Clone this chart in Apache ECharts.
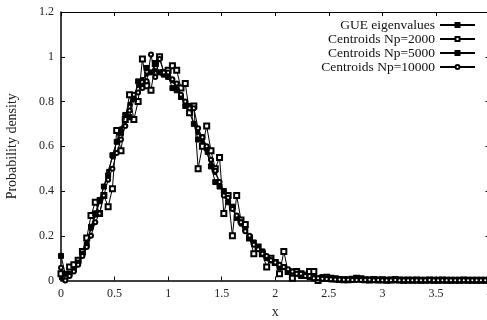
<!DOCTYPE html>
<html><head><meta charset="utf-8">
<script src="https://cdn.jsdelivr.net/npm/echarts@6/dist/echarts.min.js"></script>
<style>html,body{margin:0;padding:0;background:#fff}#c{width:487px;height:320px}</style>
</head><body><div id="c"></div>
<script>
const xValues = [0,0.04,0.08,0.12,0.16,0.2,0.24,0.28,0.32,0.36,0.4,0.44,0.48,0.52,0.56,0.6,0.64,0.68,0.72,0.76,0.8,0.84,0.88,0.92,0.96,1,
1.04,1.08,1.12,1.16,1.2,1.24,1.28,1.32,1.36,1.4,1.44,1.48,1.52,1.56,1.6,1.64,1.68,1.72,1.76,1.8,1.84,1.88,1.92,1.96,2,
2.04,2.08,2.12,2.16,2.2,2.24,2.28,2.32,2.36,2.4,2.44,2.48,2.52,2.56,2.6,2.64,2.68,2.72,2.76,2.8,
2.84,2.88,2.92,2.96,3,3.04,3.08,3.12,3.16,3.2,3.24,3.28,3.32,3.36,3.4,3.44,3.48,3.52,3.56,3.6,3.64,3.68,3.72,3.76,3.8,3.84,3.88,3.92,3.96,4];

const gue = [0.01,0.01,0.03,0.05,0.08,0.12,0.17,0.23,0.29,0.35,0.42,0.49,0.55,0.62,0.68,0.74,0.79,0.83,0.87,0.9,0.92,0.93,0.94,0.93,0.93,0.91,
0.89,0.86,0.82,0.79,0.75,0.7,0.66,0.62,0.57,0.52,0.48,0.44,0.4,0.36,0.32,0.28,0.25,0.22,0.19,0.17,0.15,0.13,0.11,0.09,0.08,
0.07,0.06,0.05,0.04,0.033,0.027,0.023,0.018,0.015,0.012,0.01,0.008,0.006,0.005,0.004,0.003,0.003,0.002,0.002,0.001,
0.001,0.001,0.001,0.001,0.001,0.001,0.001,0.001,0.001,0.001,0.001,0.001,0.001,0.001,0.001,0.001,0.001,0.001,0.001,0.001,0.001,0.001,0.001,0.001,0.001,0.001,0.001,0.001,0.001,0.001];

const np2000 = [0.03,0.02,0.06,0.07,0.09,0.13,0.19,0.29,0.35,0.3,0.38,0.33,0.41,0.67,0.58,0.72,0.83,0.72,0.8,0.99,0.87,0.85,0.97,1.0,0.93,0.94,
0.96,0.94,0.86,0.88,0.75,0.78,0.5,0.6,0.69,0.58,0.5,0.55,0.3,0.38,0.2,0.38,0.27,0.25,0.19,0.12,0.15,0.12,0.06,0.1,0.08,
0.03,0.13,0.04,0.01,0.04,0.03,0.025,0.04,0.04,0.0,0.01,0.015,0.01,0.008,0.005,0.003,0.003,0.006,0.01,0.008,
0.003,0.002,0.004,0.002,0.003,0.001,0.002,0.003,0.002,0.001,0.002,0.001,0.002,0.001,0.001,0.002,0.001,0.001,0.002,0.001,0.001,0.001,0.001,0.002,0.001,0.001,0.001,0.001,0.001,0.001];

const np5000 = [0.11,0.03,0.03,0.05,0.08,0.12,0.16,0.24,0.3,0.36,0.42,0.47,0.56,0.62,0.66,0.74,0.73,0.81,0.89,0.87,0.95,0.93,0.97,0.93,0.92,0.91,
0.86,0.85,0.82,0.78,0.78,0.7,0.63,0.64,0.59,0.51,0.44,0.42,0.4,0.35,0.33,0.28,0.26,0.23,0.19,0.17,0.15,0.13,0.1,0.09,0.08,
0.06,0.06,0.04,0.04,0.03,0.02,0.02,0.015,0.01,0.01,0.015,0.01,0.005,0.005,0.004,0.004,0.003,0.006,0.01,0.004,
0.003,0.002,0.003,0.002,0.002,0.002,0.003,0.005,0.002,0.001,0.001,0.002,0.001,0.001,0.002,0.001,0.001,0.001,0.001,0.001,0.001,0.001,0.001,0.001,0.001,0.001,0.001,0.001,0.001,0.001];

const np10000 = [0.057,0.0,0.02,0.04,0.07,0.11,0.15,0.2,0.26,0.3,0.38,0.45,0.5,0.57,0.63,0.69,0.76,0.83,0.84,0.86,0.89,1.01,0.91,0.99,0.93,0.93,
0.9,0.88,0.83,0.8,0.77,0.77,0.68,0.64,0.6,0.54,0.49,0.44,0.38,0.37,0.32,0.29,0.26,0.22,0.2,0.16,0.14,0.12,0.11,0.09,0.08,
0.07,0.06,0.05,0.04,0.03,0.03,0.02,0.02,0.01,0.01,0.008,0.007,0.006,0.005,0.004,0.003,0.003,0.002,0.002,0.002,
0.002,0.003,0.001,0.002,0.001,0.001,0.001,0.002,0.001,0.001,0.001,0.001,0.001,0.001,0.001,0.002,0.001,0.001,0.001,0.001,0.001,0.001,0.001,0.001,0.001,0.001,0.001,0.001,0.001,0.001];

const seriesNames = ['GUE eigenvalues','Centroids Np=2000','Centroids Np=5000','Centroids Np=10000'];
const seriesData = [gue, np2000, np5000, np10000];
const symbols = ['rect','emptyRect','rect','emptyCircle'];
const symbolSizes = [3,5,5,4];

const FONT = 'Liberation Serif';
const chart = echarts.init(document.getElementById('c'), null, {renderer:'canvas'});
const series = seriesData.map((d,k)=>({
  name: seriesNames[k], type:'line',
  data: xValues.map((x,i)=>[x,d[i]]),
  symbol: symbols[k], symbolSize: symbolSizes[k], showSymbol:true,
  color:'#000',
  lineStyle:{color:'#000', width:1, type:'solid'},
  itemStyle:{color:'#000', borderColor:'#000', borderWidth:1},
  emphasis:{disabled:true}, animation:false, z: 2+k
}));
const axisLabelStyle = {fontFamily:FONT, fontSize:12, color:'#222'};
chart.setOption({
  animation:false,
  backgroundColor:'#fff',
  grid:{left:61, top:12, width:428.5, height:268.5, containLabel:false, outerBoundsMode:'none'},
  legend:{
    data: seriesNames, orient:'vertical', right:6, top:13, align:'right',
    itemWidth:35, itemHeight:5, itemGap:0,
    textStyle:{fontFamily:FONT, fontSize:13.5, color:'#111', lineHeight:14}
  },
  xAxis:[
    {type:'value', min:0, max:4, interval:0.5, name:'x', nameLocation:'middle', nameGap:25,
     nameTextStyle:{fontFamily:FONT, fontSize:14, color:'#222'},
     axisLine:{show:true, onZero:false, lineStyle:{color:'#000', width:1.5}},
     axisTick:{show:true, inside:true, length:4, lineStyle:{color:'#000'}},
     axisLabel:Object.assign({margin:7}, axisLabelStyle), splitLine:{show:false}},
    {type:'value', position:'top', min:0, max:4, interval:0.5,
     axisLine:{show:true, onZero:false, lineStyle:{color:'#000', width:1}},
     axisTick:{show:true, inside:true, length:4, lineStyle:{color:'#000'}},
     axisLabel:{show:false}, splitLine:{show:false}}
  ],
  yAxis:[
    {type:'value', min:0, max:1.2, interval:0.2, name:'Probability density', nameLocation:'middle', nameGap:42,
     nameTextStyle:{fontFamily:FONT, fontSize:14, color:'#222'},
     axisLine:{show:true, onZero:false, lineStyle:{color:'#000', width:1.5}},
     axisTick:{show:true, inside:true, length:4, lineStyle:{color:'#000'}},
     axisLabel:Object.assign({margin:7}, axisLabelStyle), splitLine:{show:false}},
    {type:'value', position:'right', min:0, max:1.2, interval:0.2,
     axisLine:{show:true, onZero:false, lineStyle:{color:'#000', width:1}},
     axisTick:{show:true, inside:true, length:4, lineStyle:{color:'#000'}},
     axisLabel:{show:false}, splitLine:{show:false}}
  ],
  series: series
});
</script></body></html>
